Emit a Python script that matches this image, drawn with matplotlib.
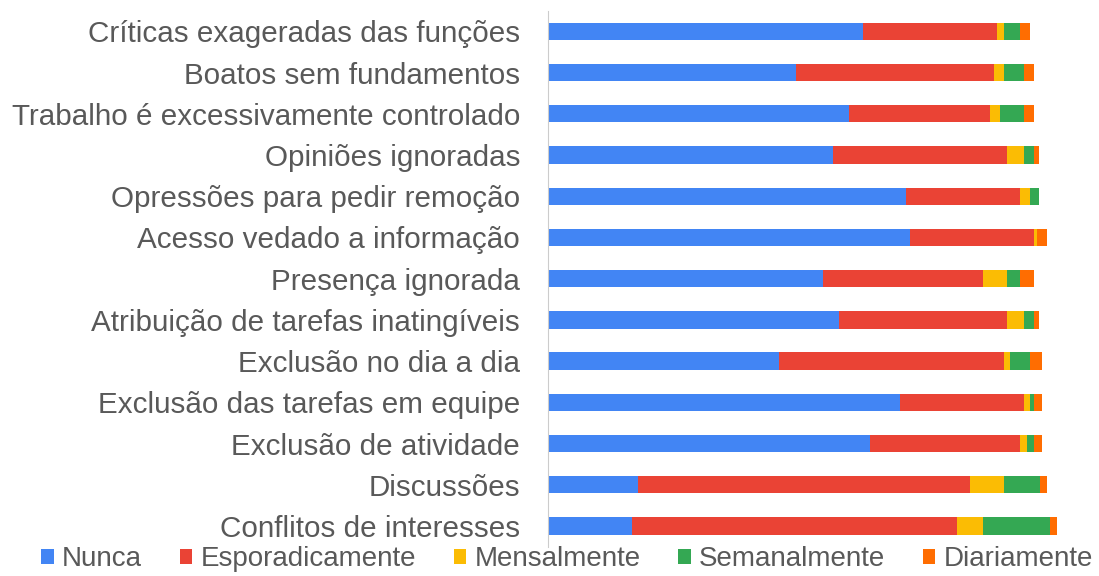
import matplotlib
matplotlib.use("Agg")
import matplotlib.pyplot as plt
import numpy as np

categories = [
    "Críticas exageradas das funções",
    "Boatos sem fundamentos",
    "Trabalho é excessivamente controlado",
    "Opiniões ignoradas",
    "Opressões para pedir remoção",
    "Acesso vedado a informação",
    "Presença ignorada",
    "Atribuição de tarefas inatingíveis",
    "Exclusão no dia a dia",
    "Exclusão das tarefas em equipe",
    "Exclusão de atividade",
    "Discussões",
    "Conflitos de interesses",
]

series_names = ["Nunca", "Esporadicamente", "Mensalmente", "Semanalmente", "Diariamente"]

nunca = [94, 74, 90, 85, 107, 108, 82, 87, 69, 105, 96, 27, 25]
esporadicamente = [40, 59, 42, 52, 34, 37, 48, 50, 67, 37, 45, 99, 97]
mensalmente = [2, 3, 3, 5, 3, 1, 7, 5, 2, 2, 2, 10, 8]
semanalmente = [5, 6, 7, 3, 2.5, 0, 4, 3, 6, 1, 2, 11, 20]
diariamente = [3, 3, 3, 1.5, 0, 3, 4, 1.5, 3.5, 2.5, 2.5, 2, 2]

colors = ["#4285F4", "#EA4335", "#FBBC04", "#34A853", "#FF6D01"]

plt.rcParams['font.family'] = ['Liberation Sans', 'DejaVu Sans']

fig = plt.figure(figsize=(10.99, 5.76), dpi=100)
ax = fig.add_axes([548 / 1099, 1 - 546.6 / 576, 512.5 / 1099, 535.9 / 576])

y = np.arange(len(categories))
left = np.zeros(len(categories))
for name, vals, col in zip(series_names,
                           [nunca, esporadicamente, mensalmente, semanalmente, diariamente],
                           colors):
    vals = np.array(vals, dtype=float)
    ax.barh(y, vals, left=left, height=0.42, color=col, label=name)
    left += vals

ax.set_xlim(0, 153)
ax.set_ylim(len(categories) - 0.5, -0.5)
ax.set_yticks(y)
ax.set_yticklabels(categories, fontsize=21.3, color="#595959")
ax.tick_params(axis="y", length=0, pad=20)
ax.set_xticks([])
for s in ["top", "right", "bottom"]:
    ax.spines[s].set_visible(False)
ax.spines["left"].set_color("#cccccc")

fig.legend(loc="center", bbox_to_anchor=(0.516, 1 - 559 / 576), ncol=5, frameon=False,
           fontsize=20, labelcolor="#595959", handlelength=0.45, handleheight=0.45,
           handletextpad=0.3, columnspacing=1.35, borderaxespad=0)

fig.savefig("out.png", dpi=100)
